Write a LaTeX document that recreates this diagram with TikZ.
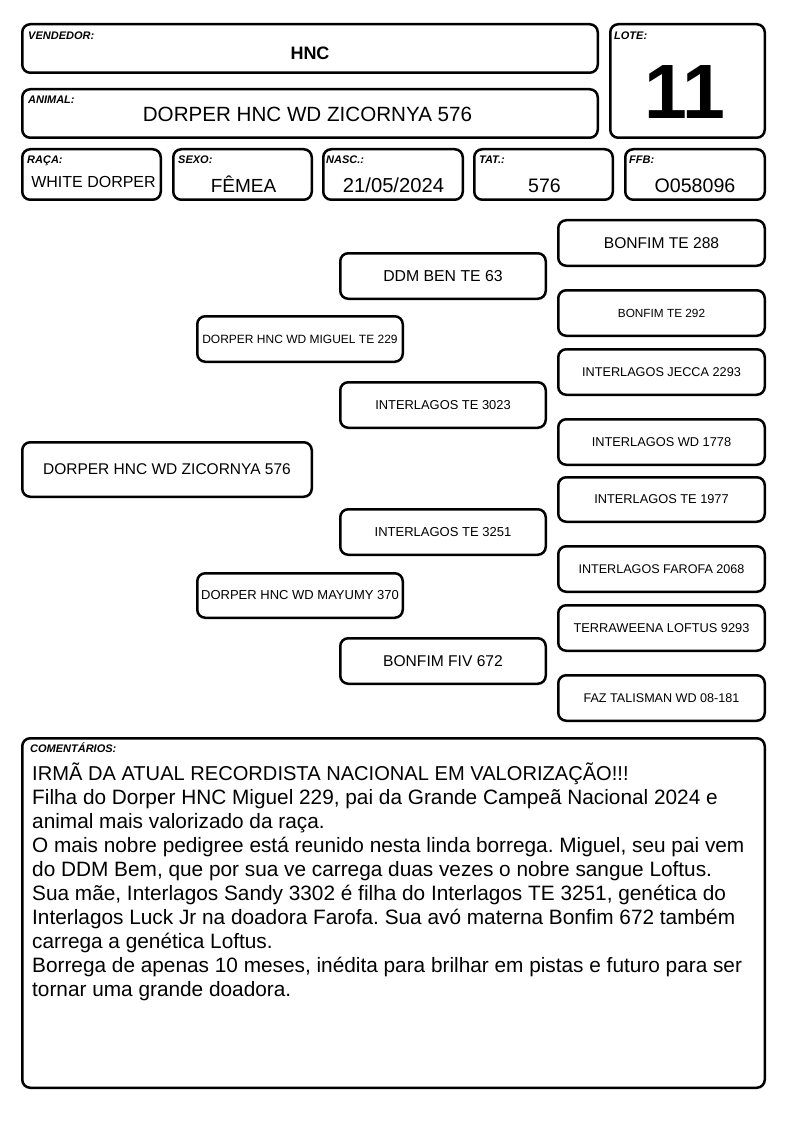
\documentclass[tikz,border=0pt]{standalone}
\usepackage{fontspec}
\setmainfont{Liberation Sans}
\frenchspacing
\newcommand{\fsz}[1]{\fontsize{#1}{#1}\selectfont}
\newcommand{\mybox}[6]{%
  \pgfmathsetmacro\mbw{#4-#2-2.5}\pgfmathsetmacro\mbh{#5-#3-2.5}%
  \node[box, minimum width=\mbw pt, minimum height=\mbh pt] (#1) at ({(#2+#4)/2},{(#3+#5)/2}) {#6};}
\begin{document}
\begin{tikzpicture}[x=1pt,y=-1pt,
  box/.style={draw=black, line width=2.5pt, rounded corners=8pt, inner sep=0pt, fill=white},
  lab/.style={anchor=base west, inner sep=0pt, font=\fsz{11}\bfseries\itshape},
  val/.style={anchor=base, inner sep=0pt},
  cline/.style={anchor=base west, inner sep=0pt, font=\fsz{20.8}}]
\useasboundingbox[fill=white] (0,0) rectangle (794,1123);
% header boxes
\mybox{vend}{21}{23}{599}{74}{}
\mybox{anim}{21}{88}{599}{139}{}
\mybox{lote}{609}{23}{766}{139}{}
\mybox{raca}{21}{148}{162}{201}{}
\mybox{sexo}{172}{148}{313}{201}{}
\mybox{nasc}{322}{148}{464}{201}{}
\mybox{tat}{473}{148}{614}{201}{}
\mybox{ffb}{624}{148}{766}{201}{}
% labels
\node[lab] (lvend) at (28,39.5) {VENDEDOR:};
\node[lab] (lanim) at (28,103.5) {ANIMAL:};
\node[lab] (llote) at (614,39.5) {LOTE:};
\node[lab] (lraca) at (27,163.5) {RAÇA:};
\node[lab] (lsexo) at (178,163.5) {SEXO:};
\node[lab] (lnasc) at (326,163.5) {NASC.:};
\node[lab] (ltat) at (479,163.5) {TAT.:};
\node[lab] (lffb) at (629,163.5) {FFB:};
% values
\node[val,font=\fsz{18}\bfseries] (tvend) at (310,59.5) {HNC};
\node[val,font=\fsz{20.6}] (tanim) at (307.5,122) {DORPER HNC WD ZICORNYA 576};
\node[val,font=\fsz{77}\bfseries] (tlote) at (685,119) {11};
\node[val,font=\fsz{16}] (traca) at (93.5,188) {WHITE DORPER};
\node[val,font=\fsz{19}] (tsexo) at (243.5,193) {FÊMEA};
\node[val,font=\fsz{20.2}] (tnasc) at (393.5,193) {21/05/2024};
\node[val,font=\fsz{19.5}] (ttat) at (544.5,193) {576};
\node[val,font=\fsz{19.6}] (tffb) at (695,193) {O058096};
% pedigree
\mybox{main}{21}{441}{313}{498}{\fsz{15.5}DORPER HNC WD ZICORNYA 576}
\mybox{pai}{196}{315}{404}{363}{\fsz{12}DORPER HNC WD MIGUEL TE 229}
\mybox{mae}{196}{572}{404}{619}{\fsz{13}DORPER HNC WD MAYUMY 370}
\mybox{ap1}{339}{252}{547}{300}{\fsz{15.8}DDM BEN TE 63}
\mybox{ap2}{339}{381}{547}{429}{\fsz{12.9}INTERLAGOS TE 3023}
\mybox{am1}{339}{508}{547}{556}{\fsz{13}INTERLAGOS TE 3251}
\mybox{am2}{339}{637}{547}{685}{\fsz{15.6}BONFIM FIV 672}
\mybox{b1}{557}{219}{766}{267}{\fsz{15.6}BONFIM TE 288}
\mybox{b2}{557}{289}{766}{337}{\fsz{11.8}BONFIM TE 292}
\mybox{b3}{557}{348}{766}{396}{\fsz{12.7}INTERLAGOS JECCA 2293}
\mybox{b4}{557}{418}{766}{466}{\fsz{12.8}INTERLAGOS WD 1778}
\mybox{b5}{557}{476}{766}{523}{\fsz{12.8}INTERLAGOS TE 1977}
\mybox{b6}{557}{545}{766}{593}{\fsz{12.6}INTERLAGOS FAROFA 2068}
\mybox{b7}{557}{604}{766}{652}{\fsz{12.8}TERRAWEENA LOFTUS 9293}
\mybox{b8}{557}{674}{766}{722}{\fsz{12.6}FAZ TALISMAN WD 08-181}
% comments
\mybox{com}{21}{737}{766}{1089}{}
\node[lab] (lcom) at (30,752.5) {COMENTÁRIOS:};
\node[cline,font=\fsz{20.1}] (c1) at (32,780) {IRMÃ DA ATUAL RECORDISTA NACIONAL EM VALORIZAÇÃO!!!};
\node[cline] (c2) at (32,804.1) {Filha do Dorper HNC Miguel 229, pai da Grande Campeã Nacional 2024 e};
\node[cline] (c3) at (32,828.2) {animal mais valorizado da raça.};
\node[cline] (c4) at (32,852.3) {O mais nobre pedigree está reunido nesta linda borrega. Miguel, seu pai vem};
\node[cline] (c5) at (32,876.4) {do DDM Bem, que por sua ve carrega duas vezes o nobre sangue Loftus.};
\node[cline] (c6) at (32,900.5) {Sua mãe, Interlagos Sandy 3302 é filha do Interlagos TE 3251, genética do};
\node[cline] (c7) at (32,924.6) {Interlagos Luck Jr na doadora Farofa. Sua avó materna Bonfim 672 também};
\node[cline] (c8) at (32,948.7) {carrega a genética Loftus.};
\node[cline] (c9) at (32,972.8) {Borrega de apenas 10 meses, inédita para brilhar em pistas e futuro para ser};
\node[cline] (c10) at (32,996.9) {tornar uma grande doadora.};
\end{tikzpicture}
\end{document}
